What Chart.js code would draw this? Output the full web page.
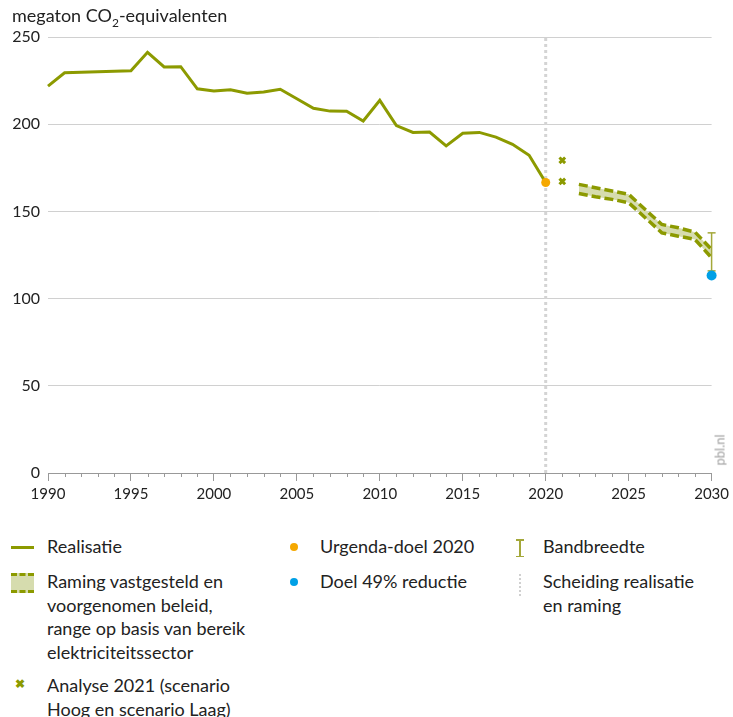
<!DOCTYPE html>
<html>
<head>
<meta charset="utf-8">
<script src="https://cdn.jsdelivr.net/npm/chart.js@4"></script>
<style>
  body { margin: 0; background: #fff; font-family: Lato, "Noto Sans", sans-serif; color: #222; }
  #wrap { position: relative; width: 733px; height: 717px; }
  #chartBox { position: absolute; left: 0; top: 0; width: 733px; height: 515px; }
  .ytitle { position: absolute; left: 12px; top: 4px; font-size: 18px; }
  .ytitle sub { font-size: 12px; }
  .pbl { position: absolute; left: 704px; top: 442px; font-size: 13px; color: #a0a0a0; transform: rotate(-90deg); transform-origin: center; }
  .lg { position: absolute; font-size: 18px; line-height: 23.5px; }
  .ico { position: absolute; }
</style>
</head>
<body>
<div id="wrap">
  <div id="chartBox"><canvas id="chart"></canvas></div>
  <div class="ytitle">megaton CO<sub>2</sub>-equivalenten</div>
  <div class="pbl">pbl.nl</div>

  <!-- legend -->
  <div class="ico" style="left:11px;top:546px;width:23px;height:3px;background:#8c9a00"></div>
  <div class="lg" style="left:47px;top:535px">Realisatie</div>

  <div class="ico" style="left:11px;top:573px;width:23px;height:14px;background:#d6dcae;border-top:3px dashed #8c9a00;border-bottom:3px dashed #8c9a00"></div>
  <div class="lg" style="left:47px;top:570px">Raming vastgesteld en<br>voorgenomen beleid,<br>range op basis van bereik<br>elektriciteitssector</div>

  <div class="ico" style="left:15px;top:676px;font-size:12px;color:#8c9a00;font-weight:bold">&#10006;</div>
  <div class="lg" style="left:47px;top:674px">Analyse 2021 (scenario<br>Hoog en scenario Laag)</div>

  <div class="ico" style="left:290px;top:543px;width:8px;height:8px;border-radius:50%;background:#f5a800"></div>
  <div class="lg" style="left:320px;top:535px">Urgenda-doel 2020</div>

  <div class="ico" style="left:290px;top:578px;width:8px;height:8px;border-radius:50%;background:#00a0e6"></div>
  <div class="lg" style="left:320px;top:570px">Doel 49% reductie</div>

  <div class="ico" style="left:516px;top:539px;width:8px;height:1.5px;background:#a4a83a"></div>
  <div class="ico" style="left:519px;top:539px;width:1.5px;height:18px;background:#a4a83a"></div>
  <div class="ico" style="left:516px;top:555.5px;width:8px;height:1.5px;background:#a4a83a"></div>
  <div class="lg" style="left:543px;top:535px">Bandbreedte</div>

  <div class="ico" style="left:519px;top:574px;width:0;height:22px;border-left:2px dotted #d0d0d0"></div>
  <div class="lg" style="left:543px;top:570px">Scheiding realisatie<br>en raming</div>
</div>

<script>
const years = [1990, 1991, 1992, 1993, 1994, 1995, 1996, 1997, 1998, 1999, 2000, 2001, 2002, 2003, 2004,
  2005, 2006, 2007, 2008, 2009, 2010, 2011, 2012, 2013, 2014, 2015, 2016, 2017, 2018, 2019, 2020];
const realisatie = [221.8, 229.5, 229.8, 230.1, 230.4, 230.7, 241.2, 232.8, 233.0, 220.3, 219.0, 219.8, 217.8, 218.5, 220.0,
  214.6, 209.1, 207.5, 207.4, 201.8, 213.7, 199.2, 195.3, 195.5, 187.6, 194.8, 195.3, 192.6, 188.5, 182.2, 166.6];

const ramingYears = [2022, 2023, 2024, 2025, 2026, 2027, 2028, 2029, 2030];
const ramingHoog = [165.5, 163.6, 161.7, 159.8, 151.1, 142.5, 140.6, 138.1, 128.2];
const ramingLaag = [160.3, 158.4, 156.9, 155.0, 146.4, 137.7, 135.8, 133.9, 123.4];

const analyseYear = 2021;
const analyse = [179.3, 167.2];

const urgendaYear = 2020;
const urgenda = 166.6;
const doelYear = 2030;
const doel49 = 113.2;
const bandbreedte = [115.9, 137.7];

const scheidingYear = 2020;

const olive = '#8c9a00';

function pts(xs, ys) {
  return xs.map((x, i) => ({ x: x, y: ys[i] }));
}

// small year ticks on the x axis
const minorTicks = {
  id: 'minorTicks',
  afterDraw(chart) {
    const ctx = chart.ctx;
    const x = chart.scales.x;
    const bottom = chart.chartArea.bottom;
    ctx.save();
    ctx.strokeStyle = '#999';
    ctx.lineWidth = 1;
    for (let yr = 1990; yr <= 2030; yr++) {
      if (yr % 5 === 0) continue;
      const px = Math.round(x.getPixelForValue(yr)) + 0.5;
      ctx.beginPath();
      ctx.moveTo(px, bottom);
      ctx.lineTo(px, bottom + 4);
      ctx.stroke();
    }
    ctx.restore();
  }
};

const ctx = document.getElementById('chart').getContext('2d');
new Chart(ctx, {
  type: 'line',
  data: {
    datasets: [
      {
        label: 'Scheiding',
        data: [{ x: scheidingYear, y: 0 }, { x: scheidingYear, y: 250 }],
        borderColor: '#d4d4d4',
        borderWidth: 3,
        borderDash: [3, 3],
        pointRadius: 0,
        order: 10
      },
      {
        label: 'Raming hoog',
        data: pts(ramingYears, ramingHoog),
        borderColor: olive,
        borderWidth: 3.5,
        borderDash: [9, 4],
        pointRadius: 0,
        fill: false,
        order: 5
      },
      {
        label: 'Raming laag',
        data: pts(ramingYears, ramingLaag),
        borderColor: olive,
        borderWidth: 3.5,
        borderDash: [9, 4],
        pointRadius: 0,
        backgroundColor: '#d6dcae',
        fill: { target: 1 },
        order: 5
      },
      {
        label: 'Realisatie',
        data: pts(years, realisatie),
        borderColor: olive,
        borderWidth: 3,
        pointRadius: 0,
        order: 3
      },
      {
        label: 'Bandbreedte',
        data: pts([doelYear, doelYear], bandbreedte),
        borderColor: '#a4a83a',
        borderWidth: 1.5,
        pointStyle: 'line',
        pointRadius: 4,
        pointBorderColor: '#a4a83a',
        pointBorderWidth: 1.5,
        order: 2
      },
      {
        label: 'Analyse 2021',
        data: pts([analyseYear, analyseYear], analyse),
        showLine: false,
        pointStyle: 'crossRot',
        pointRadius: 4,
        pointBorderColor: olive,
        pointBorderWidth: 3,
        order: 1
      },
      {
        label: 'Urgenda-doel 2020',
        data: [{ x: urgendaYear, y: urgenda }],
        showLine: false,
        pointRadius: 4.5,
        pointBackgroundColor: '#f5a800',
        pointBorderWidth: 0,
        order: 0
      },
      {
        label: 'Doel 49% reductie',
        data: [{ x: doelYear, y: doel49 }],
        showLine: false,
        pointRadius: 5,
        pointBackgroundColor: '#00a0e6',
        pointBorderWidth: 0,
        order: 0
      }
    ]
  },
  options: {
    responsive: true,
    maintainAspectRatio: false,
    animation: false,
    events: [],
    clip: false,
    layout: { padding: { top: 37, right: 21, left: 0, bottom: 0 } },
    elements: { line: { tension: 0 } },
    plugins: {
      legend: { display: false },
      tooltip: { enabled: false }
    },
    scales: {
      x: {
        type: 'linear',
        min: 1990,
        max: 2030,
        afterFit: (s) => { s.height = 42; },
        border: { color: '#999', width: 1 },
        grid: { drawOnChartArea: false, tickLength: 8, tickColor: '#999' },
        ticks: {
          stepSize: 5,
          padding: 4,
          color: '#222',
          font: { family: 'Lato', size: 15 },
          maxRotation: 0,
          callback: (v) => String(v)
        }
      },
      y: {
        min: 0,
        max: 250,
        afterFit: (s) => { s.width = 48; },
        border: { display: false },
        grid: { color: '#d0d0d0', drawTicks: false },
        ticks: {
          stepSize: 50,
          padding: 8,
          color: '#222',
          font: { family: 'Lato', size: 16 }
        }
      }
    }
  },
  plugins: [minorTicks]
});
</script>
</body>
</html>
